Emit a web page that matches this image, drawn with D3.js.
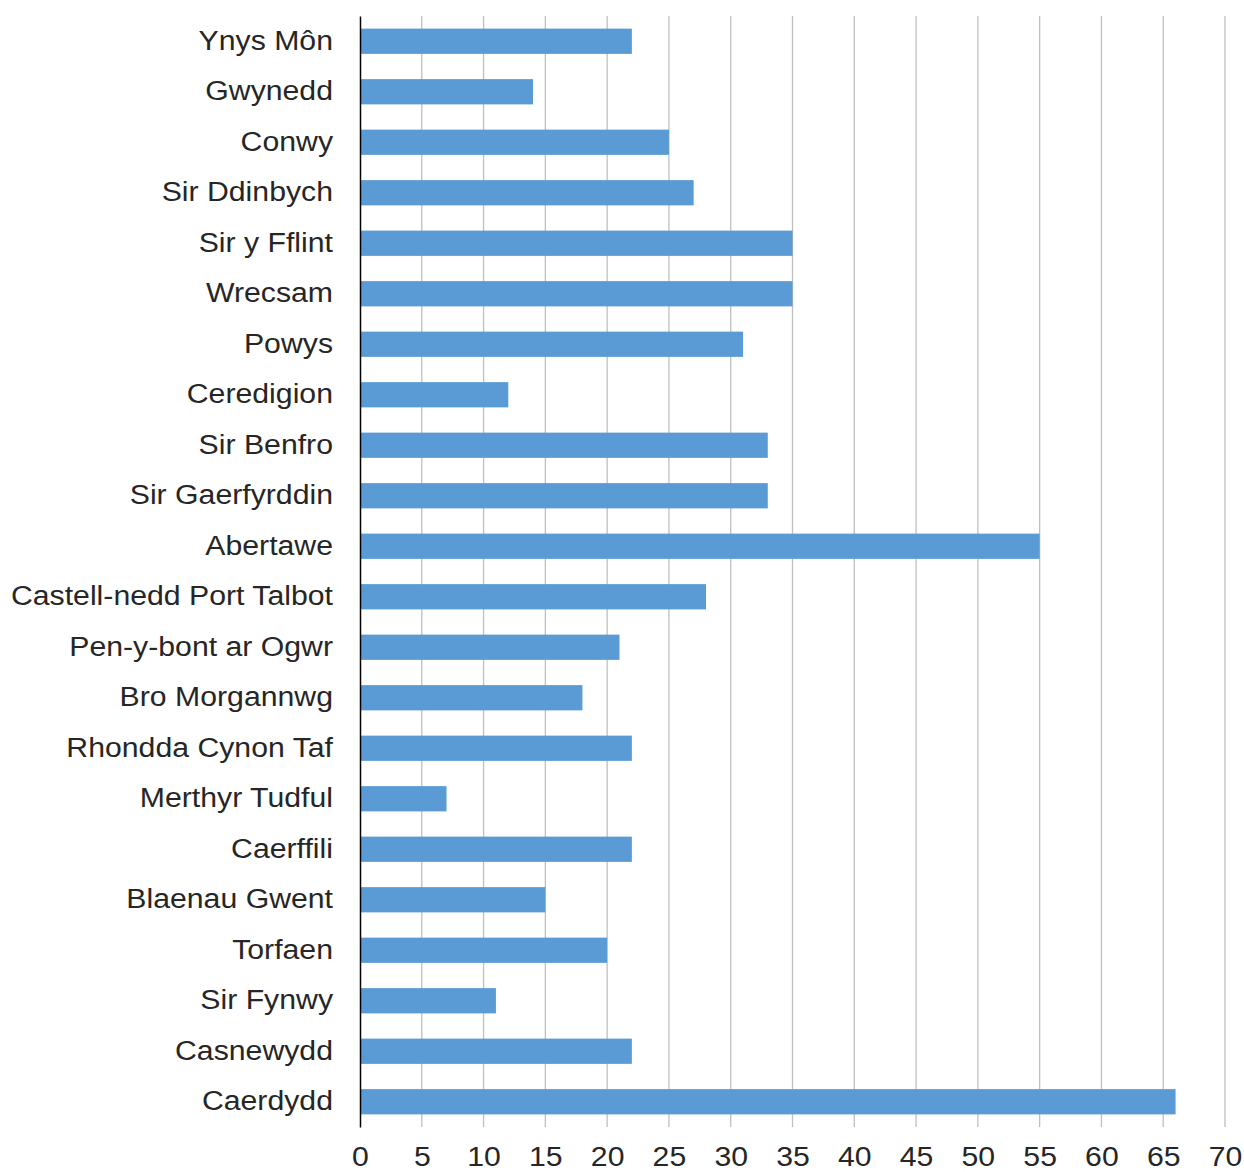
<!DOCTYPE html>
<html>
<head>
<meta charset="utf-8">
<script src="https://cdn.jsdelivr.net/npm/d3@7"></script>
<style>
  body { margin: 0; background: #fff; }
  svg text { font-family: "Liberation Sans", Arial, sans-serif; }
</style>
</head>
<body>
<svg></svg>
<script>
// categories and values, top to bottom
const areas = ["Ynys Môn", "Gwynedd", "Conwy", "Sir Ddinbych", "Sir y Fflint", "Wrecsam",
  "Powys", "Ceredigion", "Sir Benfro", "Sir Gaerfyrddin", "Abertawe",
  "Castell-nedd Port Talbot", "Pen-y-bont ar Ogwr", "Bro Morgannwg",
  "Rhondda Cynon Taf", "Merthyr Tudful", "Caerffili", "Blaenau Gwent",
  "Torfaen", "Sir Fynwy", "Casnewydd", "Caerdydd"];
const counts = [22, 14, 25, 27, 35, 35, 31, 12, 33, 33, 55, 28, 21, 18, 22, 7, 22, 15, 20, 11, 22, 66];
const xTicks = [0, 5, 10, 15, 20, 25, 30, 35, 40, 45, 50, 55, 60, 65, 70];

const w = 1244;
const h = 1172;
const plotLeft = 360, plotRight = 1225, plotTop = 16, plotBottom = 1127;
const stretch = 1.12; // labels in the picture are a bit wider than plain Arial

let svg = d3.select("svg").attr("width", w).attr("height", h);

let xScale = d3.scaleLinear().domain([0, 70]).range([plotLeft, plotRight]);
let yScale = d3.scaleBand().domain(areas).range([plotTop, plotBottom]).paddingInner(0.5).paddingOuter(0.25);

// vertical gridlines
svg.append("g")
  .selectAll("line")
  .data(xTicks.slice(1))
  .enter()
  .append("line")
  .attr("x1", d => xScale(d)).attr("x2", d => xScale(d))
  .attr("y1", plotTop).attr("y2", plotBottom)
  .attr("stroke", "#bfbfbf")
  .attr("stroke-width", 1.3);

// bars
let data = areas.map((a, i) => ({ area: a, value: counts[i] }));
svg.selectAll(".bar")
  .data(data)
  .enter()
  .append("rect")
  .attr("class", "bar")
  .attr("x", xScale(0))
  .attr("y", d => yScale(d.area))
  .attr("width", d => xScale(d.value) - xScale(0))
  .attr("height", yScale.bandwidth())
  .attr("fill", "#5b9bd5");

// y axis
let yAxis = d3.axisLeft(yScale).tickSize(0).tickPadding(27 / stretch);
let yg = svg.append("g")
  .attr("transform", "translate(" + plotLeft + ",0)")
  .call(yAxis);
yg.select(".domain").attr("stroke", "#000").attr("stroke-width", 1.5);
yg.selectAll("text")
  .attr("font-size", 27)
  .attr("fill", "#262626")
  .attr("transform", "scale(" + stretch + ",1)");

// x axis labels (no line)
let xAxis = d3.axisBottom(xScale).tickValues(xTicks).tickSize(0).tickPadding(20);
let xg = svg.append("g")
  .attr("transform", "translate(0," + plotBottom + ")")
  .call(xAxis);
xg.select(".domain").remove();
xg.selectAll("text")
  .attr("font-size", 27)
  .attr("fill", "#262626")
  .attr("transform", "scale(" + stretch + ",1)")
  .attr("x", 0);
xg.selectAll(".tick text").attr("transform", "scale(" + stretch + ",1)");
</script>
</body>
</html>
